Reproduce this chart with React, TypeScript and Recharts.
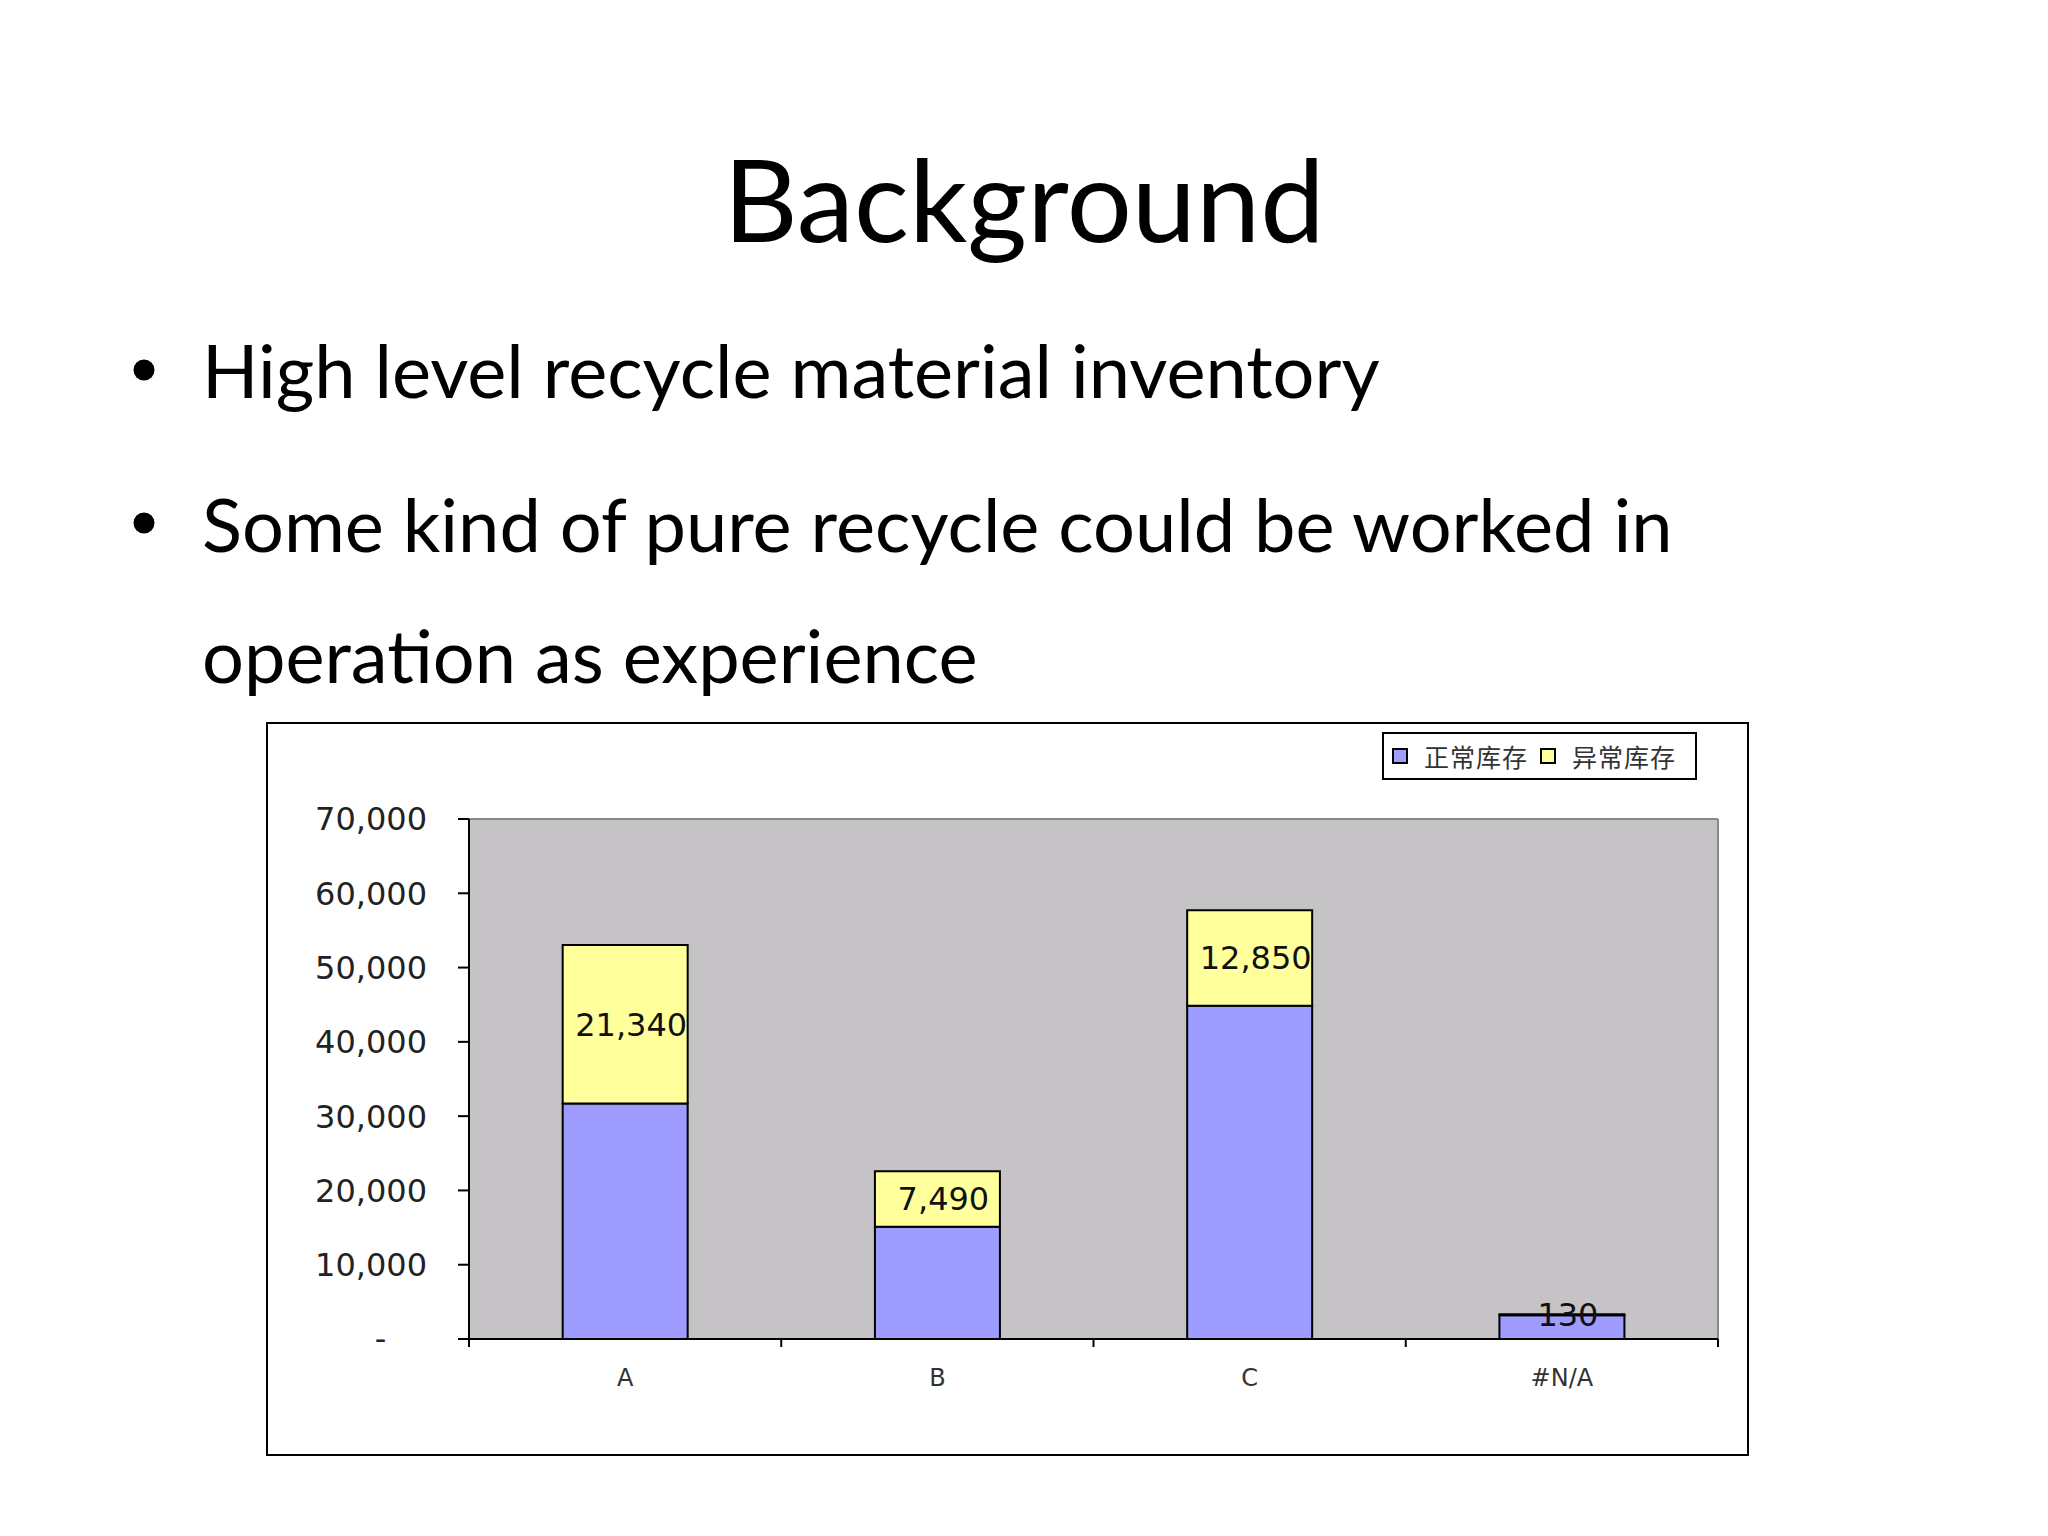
import React from 'react';
import {
  Bar,
  BarChart,
  CartesianGrid,
  LabelList,
  Legend,
  XAxis,
  YAxis,
} from 'recharts';

const categories = ['A', 'B', 'C', '#N/A'];
const normalStock = [31700, 15100, 44850, 3200];
const abnormalStock = [21340, 7490, 12850, 130];
const seriesNames = ['正常库存', '异常库存'];
const seriesColors = ['#9F9CFF', '#FFFF9C'];
const yTicks = [0, 10000, 20000, 30000, 40000, 50000, 60000, 70000];

const title = 'Background';
const bulletLines = [
  'High level recycle material inventory',
  'Some kind of pure recycle could be worked in',
  'operation as experience',
];

const data = categories.map((name, i) => ({
  name,
  normal: normalStock[i],
  abnormal: abnormalStock[i],
}));

const fmtY = (v: number) => (v === 0 ? '-\u2007\u2007' : v.toLocaleString('en-US'));

const X_TICK_MARGIN = 39;

// category label at the band centre, excel-style tick marks on the band edges
const CategoryTick = (props: any) => {
  const { x, y, payload, width, visibleTicksCount, index } = props;
  const half = width / visibleTicksCount / 2;
  const axisY = y - X_TICK_MARGIN;
  return (
    <g>
      <line x1={x - half} x2={x - half} y1={axisY} y2={axisY + 8} stroke="#000" strokeWidth={2} />
      {index === visibleTicksCount - 1 && (
        <line x1={x + half} x2={x + half} y1={axisY} y2={axisY + 8} stroke="#000" strokeWidth={2} />
      )}
      <text
        x={x}
        y={y}
        textAnchor="middle"
        dominantBaseline="central"
        fontFamily="DejaVu Sans"
        fontSize={24}
        fill="#333"
      >
        {payload.value}
      </text>
    </g>
  );
};

// excel-style boxed legend, series in declaration order
const LegendBox = () => (
  <div
    style={{
      width: 315,
      height: 48,
      boxSizing: 'border-box',
      border: '2px solid #000',
      background: '#fff',
      display: 'flex',
      alignItems: 'center',
      fontFamily: '"Noto Sans CJK SC"',
      fontSize: 25,
      color: '#333',
    }}
  >
    {seriesNames.map((n, i) => (
      <span
        key={n}
        style={{ display: 'flex', alignItems: 'center', marginLeft: i === 0 ? 8 : 12 }}
      >
        <span
          style={{
            width: 12,
            height: 12,
            border: '2px solid #000',
            background: seriesColors[i],
            marginRight: 16,
          }}
        />
        <span style={{ letterSpacing: 1 }}>{n}</span>
      </span>
    ))}
  </div>
);

const App = () => {
  return (
    <div style={{ position: 'absolute', left: 0, top: 0, width: 2048, height: 1536, background: '#fff' }}>
      <svg width={2048} height={700} style={{ position: 'absolute', left: 0, top: 0 }}>
        <text x={1024} y={242} textAnchor="middle" fontFamily="Lato" fontSize={115} fill="#000">
          {title}
        </text>
        <circle cx={144} cy={370} r={10.5} fill="#000" />
        <circle cx={144} cy={523} r={10.5} fill="#000" />
        <text x={202} y={398} fontFamily="Lato" fontSize={74} fill="#000">
          {bulletLines[0]}
        </text>
        <text x={202} y={552} fontFamily="Lato" fontSize={74} fill="#000">
          {bulletLines[1]}
        </text>
        <text x={202} y={683} fontFamily="Lato" fontSize={74} fill="#000">
          {bulletLines[2]}
        </text>
      </svg>
      <div
        style={{
          position: 'absolute',
          left: 266,
          top: 722,
          width: 1483,
          height: 734,
          boxSizing: 'border-box',
          border: '2px solid #000',
          background: '#fff',
        }}
      >
        <BarChart
          width={1479}
          height={730}
          data={data}
          barCategoryGap="30%"
          margin={{ top: 95, right: 29, left: 0, bottom: 20 }}
        >
          <CartesianGrid
            fill="#C5C3C6"
            stroke="#8a8a8a"
            strokeWidth={2}
            horizontalCoordinatesGenerator={({ offset }: any) => [offset.top]}
            verticalCoordinatesGenerator={({ offset }: any) => [offset.left + offset.width]}
          />
          <XAxis
            dataKey="name"
            height={95}
            interval={0}
            axisLine={{ stroke: '#000', strokeWidth: 2 }}
            tickLine={false}
            tickSize={0}
            tickMargin={X_TICK_MARGIN}
            tick={<CategoryTick />}
          />
          <YAxis
            width={201}
            domain={[0, 70000]}
            ticks={yTicks}
            tickFormatter={fmtY}
            tickSize={11}
            tickMargin={31}
            axisLine={{ stroke: '#000', strokeWidth: 2 }}
            tickLine={{ stroke: '#000', strokeWidth: 2 }}
            tick={{ fontFamily: 'DejaVu Sans', fontSize: 32, fill: '#222' }}
          />
          <Legend
            layout="horizontal"
            verticalAlign="middle"
            align="center"
            wrapperStyle={{ top: 8, left: 1114, width: 315 }}
            content={LegendBox}
          />
          <Bar
            dataKey="normal"
            name={seriesNames[0]}
            stackId="s"
            fill={seriesColors[0]}
            stroke="#000"
            strokeWidth={2}
            isAnimationActive={false}
          />
          <Bar
            dataKey="abnormal"
            name={seriesNames[1]}
            stackId="s"
            fill={seriesColors[1]}
            stroke="#000"
            strokeWidth={2}
            isAnimationActive={false}
          >
            <LabelList
              dataKey="abnormal"
              position="center"
              dx={6}
              formatter={(v: any) => Number(v).toLocaleString('en-US')}
              style={{ fontFamily: 'DejaVu Sans', fontSize: 32, fill: '#111' }}
            />
          </Bar>
        </BarChart>
      </div>
    </div>
  );
};

export default App;
